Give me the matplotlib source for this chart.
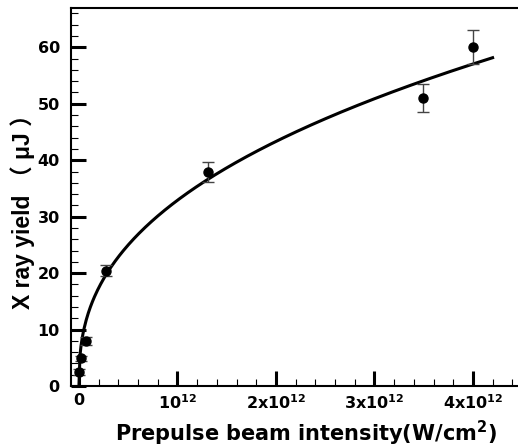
import numpy as np
import matplotlib
matplotlib.use('Agg')
import matplotlib.pyplot as plt
from matplotlib.ticker import MultipleLocator, FixedLocator

plt.rcParams['font.family'] = ['DejaVu Sans']
plt.rcParams['font.weight'] = 'bold'
plt.rcParams['mathtext.fontset'] = 'dejavusans'

# measured points (intensity in W/cm^2, yield in uJ)
intensity = [0.005e12, 0.02e12, 0.07e12, 0.27e12, 1.31e12, 3.49e12, 4.0e12]
xray_yield = [2.5, 4.9, 8.0, 20.4, 37.9, 51.0, 60.0]
yield_err = [0.5, 0.5, 0.7, 1.0, 1.8, 2.5, 3.0]

# power-law fit  y = a * (I / 1e12) ** b
fit_a = 32.9
fit_b = 0.397
fit_xmax = 4.2e12

xtick_vals = [0, 1e12, 2e12, 3e12, 4e12]
xtick_labels = ['0', r'$\mathbf{10^{12}}$', r'$\mathbf{2x10^{12}}$',
                r'$\mathbf{3x10^{12}}$', r'$\mathbf{4x10^{12}}$']

fig = plt.figure(figsize=(5.18, 4.47), dpi=100)
ax = fig.add_axes([0.137, 0.1365, 0.871, 0.846])

xf = np.linspace(0, fit_xmax, 400)
ax.plot(xf, fit_a * (xf / 1e12) ** fit_b, color='black', lw=2.2, zorder=3)

ax.errorbar(intensity, xray_yield, yerr=yield_err, fmt='o', color='black',
            ms=6.5, ecolor='#444444', elinewidth=1, capsize=4, capthick=1, zorder=4)

ax.set_xlim(-0.081e12, 4.5e12)
ax.set_ylim(0, 67)

ax.xaxis.set_major_locator(FixedLocator(xtick_vals))
ax.set_xticklabels(xtick_labels)
ax.xaxis.set_minor_locator(MultipleLocator(0.2e12))
ax.yaxis.set_major_locator(MultipleLocator(10))
ax.yaxis.set_minor_locator(MultipleLocator(2))

ax.tick_params(which='major', direction='in', length=11, width=2.2, labelsize=11.5, pad=5)
ax.tick_params(axis='y', which='major', pad=8)
ax.tick_params(which='minor', direction='in', length=5, width=0.8)
ax.tick_params(top=False, right=False, which='both')

for s in ['left', 'bottom', 'top']:
    ax.spines[s].set_linewidth(1.5)
ax.spines['right'].set_visible(False)

ax.set_xlabel(r'Prepulse beam intensity(W/cm$\mathbf{^{2}}$)', fontsize=15, fontweight='bold')
ax.set_ylabel('X ray yield （ μJ ）', fontsize=16.5, fontweight='bold',
              family=['Liberation Sans', 'Noto Sans CJK SC'])
ax.xaxis.set_label_coords(0.52, -0.087)
ax.yaxis.set_label_coords(-0.080, 0.477)

fig.savefig('out.png', dpi=100)
